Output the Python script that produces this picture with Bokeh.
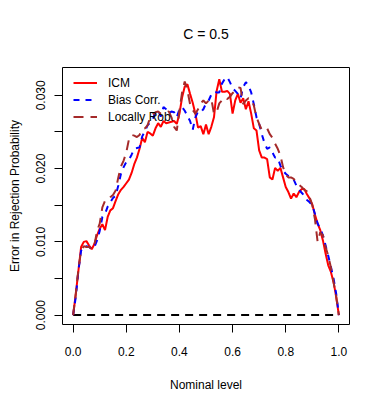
from bokeh.plotting import figure
from bokeh.models import Legend, LegendItem, FixedTicker, Title
from bokeh.embed import file_html
from bokeh.resources import INLINE

nominal = [i / 100 for i in range(101)]

icm = [0.0, 0.0029, 0.0061, 0.0093, 0.0100, 0.0101, 0.0095, 0.0090, 0.0097, 0.0109,
       0.0118, 0.0124, 0.0116, 0.0134, 0.0143, 0.0146, 0.0156, 0.0165, 0.0171, 0.0175,
       0.0180, 0.0185, 0.0194, 0.0206, 0.0215, 0.0227, 0.0242, 0.0236, 0.0250, 0.0248,
       0.0245, 0.0255, 0.0262, 0.0257, 0.0265, 0.0262, 0.0263, 0.0264, 0.0265, 0.0261,
       0.0275, 0.0297, 0.0312, 0.0315, 0.0302, 0.0290, 0.0275, 0.0256, 0.0258, 0.0247,
       0.0260, 0.0247, 0.0257, 0.0270, 0.0306, 0.0322, 0.0305, 0.0305, 0.0306, 0.0302,
       0.0275, 0.0293, 0.0302, 0.0290, 0.0296, 0.0281, 0.0292, 0.0275, 0.0255, 0.0252,
       0.0225, 0.0215, 0.0215, 0.0213, 0.0188, 0.0185, 0.0201, 0.0197, 0.0201, 0.0188,
       0.0175, 0.0168, 0.0159, 0.0166, 0.0161, 0.0168, 0.0172, 0.0172, 0.0165, 0.0159,
       0.0151, 0.0137, 0.0125, 0.0116, 0.0102, 0.0084, 0.0068, 0.0059, 0.0045, 0.0025,
       0.0]

bias_corr = [0.0, 0.0025, 0.0061, 0.0088, 0.0094, 0.0094, 0.0093, 0.0090, 0.0093, 0.0102,
             0.0115, 0.0134, 0.0138, 0.0148, 0.0154, 0.0160, 0.0163, 0.0177, 0.0193, 0.0202,
             0.0209, 0.0212, 0.0219, 0.0227, 0.0228, 0.0229, 0.0244, 0.0251, 0.0259, 0.0263,
             0.0268, 0.0277, 0.0279, 0.0271, 0.0284, 0.0281, 0.0275, 0.0278, 0.0277, 0.0270,
             0.0281, 0.0284, 0.0279, 0.0272, 0.0265, 0.0253, 0.0270, 0.0278, 0.0277, 0.0281,
             0.0289, 0.0293, 0.0301, 0.0305, 0.0304, 0.0304, 0.0316, 0.0322, 0.0325, 0.0318,
             0.0310, 0.0306, 0.0302, 0.0296, 0.0311, 0.0318, 0.0313, 0.0304, 0.0288, 0.0270,
             0.0261, 0.0247, 0.0235, 0.0227, 0.0229, 0.0222, 0.0215, 0.0215, 0.0204, 0.0197,
             0.0193, 0.0190, 0.0188, 0.0185, 0.0177, 0.0171, 0.0167, 0.0163, 0.0157, 0.0154,
             0.0150, 0.0138, 0.0125, 0.0118, 0.0109, 0.0095, 0.0081, 0.0066, 0.0050, 0.0029,
             0.0]

locally_rob = [0.0, 0.0029, 0.0063, 0.0088, 0.0094, 0.0093, 0.0093, 0.0090, 0.0095, 0.0115,
               0.0125, 0.0147, 0.0156, 0.0157, 0.0161, 0.0164, 0.0170, 0.0188, 0.0203, 0.0211,
               0.0222, 0.0240, 0.0246, 0.0245, 0.0243, 0.0246, 0.0254, 0.0255, 0.0259, 0.0270,
               0.0274, 0.0277, 0.0278, 0.0275, 0.0275, 0.0276, 0.0278, 0.0270, 0.0257, 0.0252,
               0.0279, 0.0304, 0.0319, 0.0307, 0.0288, 0.0280, 0.0275, 0.0281, 0.0289, 0.0293,
               0.0289, 0.0293, 0.0295, 0.0275, 0.0277, 0.0289, 0.0293, 0.0297, 0.0295, 0.0298,
               0.0303, 0.0306, 0.0311, 0.0310, 0.0288, 0.0293, 0.0296, 0.0295, 0.0286, 0.0270,
               0.0261, 0.0253, 0.0254, 0.0255, 0.0247, 0.0242, 0.0234, 0.0227, 0.0218, 0.0202,
               0.0192, 0.0188, 0.0188, 0.0186, 0.0181, 0.0178, 0.0175, 0.0171, 0.0169, 0.0161,
               0.0150, 0.0131, 0.0100, 0.0113, 0.0109, 0.0093, 0.0081, 0.0065, 0.0045, 0.0025,
               0.0]

zero_x = [0.0, 1.0]
zero_y = [0.0, 0.0]

x_ticks = [0.0, 0.2, 0.4, 0.6, 0.8, 1.0]
x_labels = ["0.0", "0.2", "0.4", "0.6", "0.8", "1.0"]
y_ticks = [0.0, 0.005, 0.01, 0.015, 0.02, 0.025, 0.03]
y_labels = ["0.000", "", "0.010", "", "0.020", "", "0.030"]

series_names = ["ICM", "Bias Corr.", "Locally Rob."]
series_colors = ["#FF0000", "#0000FF", "#A52A2A"]
chart_title = "C = 0.5"

FONT = "Liberation Sans"

p = figure(frame_width=287, frame_height=257,
           x_range=(-0.04, 1.04), y_range=(-0.00128, 0.0338),
           output_backend="svg", toolbar_location=None,
           min_border_left=62, min_border_right=25,
           min_border_top=67, min_border_bottom=77,
           title=None)
p.background_fill_color = "white"
p.border_fill_color = "white"
p.outline_line_color = "black"
p.outline_line_width = 1
p.xgrid.visible = False
p.ygrid.visible = False

spacer = Title(text=" ", text_font_size="8px", align="center")
p.add_layout(spacer, "above")
main_title = Title(text=chart_title, align="center", text_font=FONT,
                   text_font_size="14px", text_font_style="normal",
                   text_color="black")
p.add_layout(main_title, "above")

p.line(zero_x, zero_y, line_color="black", line_width=2, line_dash="8 6")
r1 = p.line(nominal, icm, line_color=series_colors[0], line_width=2)
r2 = p.line(nominal, bias_corr, line_color=series_colors[1], line_width=2, line_dash="6 6")
r3 = p.line(nominal, locally_rob, line_color=series_colors[2], line_width=2, line_dash="10 7")

for ax in (p.xaxis[0], p.yaxis[0]):
    ax.axis_line_color = None
    ax.major_tick_in = 0
    ax.major_tick_out = 8
    ax.minor_tick_out = 0
    ax.minor_tick_in = 0
    ax.major_tick_line_color = "black"
    ax.major_label_text_font = FONT
    ax.major_label_text_font_size = "12px"
    ax.major_label_text_color = "black"
    ax.axis_label_text_font = FONT
    ax.axis_label_text_font_size = "12px"
    ax.axis_label_text_font_style = "normal"
    ax.axis_label_text_color = "black"

p.xaxis.ticker = FixedTicker(ticks=x_ticks)
p.xaxis.major_label_overrides = dict(zip(x_ticks, x_labels))
p.xaxis.axis_label = "Nominal level"
p.xaxis.major_label_standoff = 14
p.xaxis.axis_label_standoff = 19

p.yaxis.ticker = FixedTicker(ticks=y_ticks)
p.yaxis.major_label_overrides = dict(zip(y_ticks, y_labels))
p.yaxis.major_label_orientation = "vertical"
p.yaxis.axis_label = "Error in Rejection Probability"
p.yaxis.major_label_standoff = 9
p.yaxis.axis_label_standoff = 12

legend = Legend(items=[LegendItem(label=series_names[0], renderers=[r1]),
                       LegendItem(label=series_names[1], renderers=[r2]),
                       LegendItem(label=series_names[2], renderers=[r3])],
                location=(11, 199), margin=0, padding=0, spacing=0,
                glyph_width=24, glyph_height=17, label_height=17,
                label_standoff=11,
                label_text_font=FONT, label_text_font_size="12px",
                label_text_color="black",
                background_fill_alpha=0, border_line_color=None)
p.add_layout(legend)

open("out.html", "w").write(file_html(p, INLINE))
